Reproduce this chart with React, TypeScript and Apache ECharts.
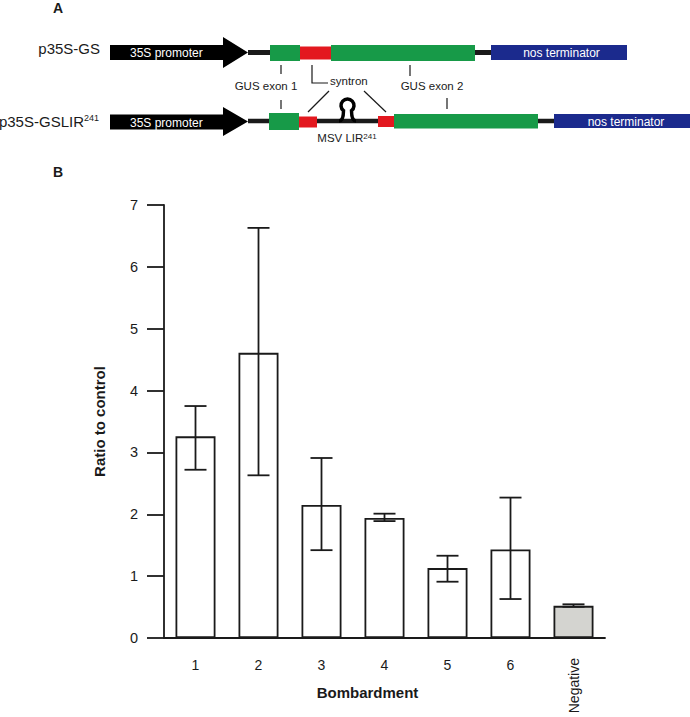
import React, { useEffect, useRef } from "react";
import * as echarts from "echarts";

const categories = ["1", "2", "3", "4", "5", "6", "Negative"];
const ratioValues = [3.26, 4.61, 2.15, 1.94, 1.13, 1.43, 0.52];
const errorLow = [2.72, 2.63, 1.42, 1.89, 0.91, 0.63, 0.505];
const errorHigh = [3.75, 6.63, 2.91, 2.01, 1.33, 2.27, 0.545];
const yMin = 0;
const yMax = 7;
const yInterval = 1;

const FONT = "'Liberation Sans', Arial, Helvetica, sans-serif";
const GREEN = "#179a48";
const RED = "#e3181f";
const BLUE = "#1b2a8d";
const INK = "#1a1a1a";

let registered = false;
function registerShapes() {
  if (registered) return;
  registered = true;
  const d =
    "M339 121 Q343.5 121 343.5 110.6 A6.5 6.5 0 1 1 351.5 110.6 Q351.5 121 356 121";
  echarts.graphic.registerShape("hairpin", echarts.graphic.extendPath(d, {}));
}

function txt(x: number, y: number, text: string, opts: any = {}) {
  return {
    type: "text",
    x,
    y,
    silent: true,
    style: {
      text,
      fill: opts.fill || INK,
      fontSize: opts.fontSize || 11.5,
      fontFamily: FONT,
      fontWeight: opts.fontWeight || "normal",
      align: opts.align || "center",
      verticalAlign: "middle",
      rich: opts.rich,
    },
    z: 10,
  };
}

function rect(x: number, y: number, w: number, h: number, fill: string) {
  return { type: "rect", shape: { x, y, width: w, height: h }, style: { fill }, z: 5, silent: true };
}

function seg(x1: number, y1: number, x2: number, y2: number, w = 1.2) {
  return {
    type: "line",
    shape: { x1, y1, x2, y2 },
    style: { stroke: INK, lineWidth: w },
    z: 4,
    silent: true,
  };
}

function arrow(yc: number, yTop: number, yBot: number, headTop: number, headBot: number) {
  return {
    type: "polygon",
    shape: {
      points: [
        [110, yTop],
        [223, yTop],
        [223, headTop],
        [248, yc],
        [223, headBot],
        [223, yBot],
        [110, yBot],
      ],
    },
    style: { fill: "#000" },
    z: 5,
    silent: true,
  };
}

export default function App() {
  const ref = useRef<HTMLDivElement>(null);

  useEffect(() => {
    if (!ref.current) return;
    registerShapes();
    const chart = echarts.init(ref.current, undefined, { renderer: "svg" });

    const supRich = { sup: { fontSize: 9, verticalAlign: "top", fontFamily: FONT, fill: INK } };

    const graphics: any[] = [
      txt(58, 8, "A", { fontSize: 14, fontWeight: "bold" }),
      txt(58, 172, "B", { fontSize: 14, fontWeight: "bold" }),
      // Row 1
      txt(100, 48, "p35S-GS", { fontSize: 15, align: "right" }),
      seg(248, 52.5, 491, 52.5, 5),
      arrow(52.5, 45, 60, 37, 68),
      txt(130, 52.5, "35S promoter", { fill: "#fff", align: "left", fontSize: 12 }),
      rect(270, 45, 30, 16, GREEN),
      rect(300, 46.5, 31, 13, RED),
      rect(331, 45, 144, 16, GREEN),
      rect(491, 45, 136, 15, BLUE),
      txt(561.5, 52.5, "nos terminator", { fill: "#fff", fontSize: 12 }),
      // Annotations
      seg(281, 65, 281, 74),
      seg(281, 100, 281, 109),
      txt(266, 86, "GUS exon 1"),
      {
        type: "polyline",
        shape: { points: [[312, 65], [312, 83], [328, 83]] },
        style: { stroke: INK, lineWidth: 1.2, fill: "none" },
        silent: true,
      },
      txt(330, 81, "syntron", { align: "left" }),
      seg(308, 112, 329, 91),
      seg(364, 91, 386, 112),
      seg(410, 65, 410, 76),
      seg(447, 98, 447, 109),
      txt(432, 86, "GUS exon 2"),
      // Row 2
      txt(99, 121, "p35S-GSLIR{sup|241}", { fontSize: 15, align: "right", rich: supRich }),
      seg(248, 121, 554, 121, 4.5),
      arrow(121.5, 114.5, 129.5, 107, 136),
      txt(130, 122.5, "35S promoter", { fill: "#fff", align: "left", fontSize: 12 }),
      rect(269, 113, 30, 17, GREEN),
      rect(299, 116.5, 18, 11, RED),
      {
        type: "hairpin",
        x: 0,
        y: 0,
        style: { fill: "none", stroke: "#000", lineWidth: 3.5 },
        z: 5,
        silent: true,
      },
      rect(378, 116, 16, 11, RED),
      rect(394, 114, 144, 14.5, GREEN),
      rect(554, 114, 136, 14, BLUE),
      txt(626, 122, "nos terminator", { fill: "#fff", fontSize: 12 }),
      txt(347, 138, "MSV LIR{sup|241}", { rich: { sup: { fontSize: 8, verticalAlign: "top", fontFamily: FONT, fill: INK } } }),
    ];

    const errData = categories.map((_, i) => [i, errorLow[i], errorHigh[i]]);

    chart.setOption({
      animation: false,
      backgroundColor: "#fff",
      textStyle: { fontFamily: FONT },
      grid: { left: 164, right: 85, top: 205, bottom: 79, containLabel: false },
      graphic: graphics,
      xAxis: [
        {
          type: "category",
          data: categories,
          name: "Bombardment",
          nameLocation: "middle",
          nameGap: 47,
          nameTextStyle: {
            fontSize: 15,
            fontWeight: "bold",
            color: INK,
            fontFamily: FONT,
            padding: [0, 34, 0, 0],
          },
          axisLine: { lineStyle: { color: INK, width: 1.8 } },
          axisTick: { alignWithLabel: true, length: 17, lineStyle: { color: INK, width: 1.8 } },
          axisLabel: {
            margin: 20,
            fontSize: 14,
            color: INK,
            fontFamily: FONT,
            formatter: (v: string) => (v === "Negative" ? "" : v),
          },
          splitLine: { show: false },
        },
        {
          type: "category",
          data: categories,
          position: "bottom",
          axisLine: { show: false },
          axisTick: { show: false },
          axisLabel: {
            margin: 20,
            rotate: 90,
            fontSize: 14,
            color: INK,
            fontFamily: FONT,
            formatter: (v: string) => (v === "Negative" ? v : ""),
          },
          splitLine: { show: false },
        },
      ],
      yAxis: {
        type: "value",
        min: yMin,
        max: yMax,
        interval: yInterval,
        name: "Ratio to control",
        nameLocation: "middle",
        nameRotate: 90,
        nameGap: 57,
        nameTextStyle: { fontSize: 15, fontWeight: "bold", color: INK, fontFamily: FONT },
        axisLine: { show: true, lineStyle: { color: INK, width: 1.8 } },
        axisTick: { show: true, length: 17, lineStyle: { color: INK, width: 1.8 } },
        axisLabel: { margin: 26, fontSize: 14.5, color: INK, fontFamily: FONT },
        splitLine: { show: false },
      },
      series: [
        {
          type: "bar",
          data: ratioValues.map((v, i) => ({
            value: v,
            itemStyle: { color: categories[i] === "Negative" ? "#d4d4d0" : "#ffffff" },
          })),
          barWidth: 40,
          itemStyle: { borderColor: INK, borderWidth: 1.8 },
          z: 2,
        },
        {
          type: "custom",
          data: errData,
          encode: { x: 0, y: [1, 2] },
          z: 3,
          renderItem: (params: any, api: any) => {
            const idx = api.value(0);
            const lo = api.coord([idx, api.value(1)]);
            const hi = api.coord([idx, api.value(2)]);
            const hw = 11;
            const style = { stroke: INK, lineWidth: 1.8 };
            return {
              type: "group",
              children: [
                { type: "line", shape: { x1: hi[0], y1: hi[1], x2: lo[0], y2: lo[1] }, style },
                { type: "line", shape: { x1: hi[0] - hw, y1: hi[1], x2: hi[0] + hw, y2: hi[1] }, style },
                { type: "line", shape: { x1: lo[0] - hw, y1: lo[1], x2: lo[0] + hw, y2: lo[1] }, style },
              ],
            };
          },
        },
      ],
    });

    return () => chart.dispose();
  }, []);

  return (
    <div
      ref={ref}
      style={{ position: "fixed", left: 0, top: 0, width: 690, height: 717, background: "#fff" }}
    />
  );
}
